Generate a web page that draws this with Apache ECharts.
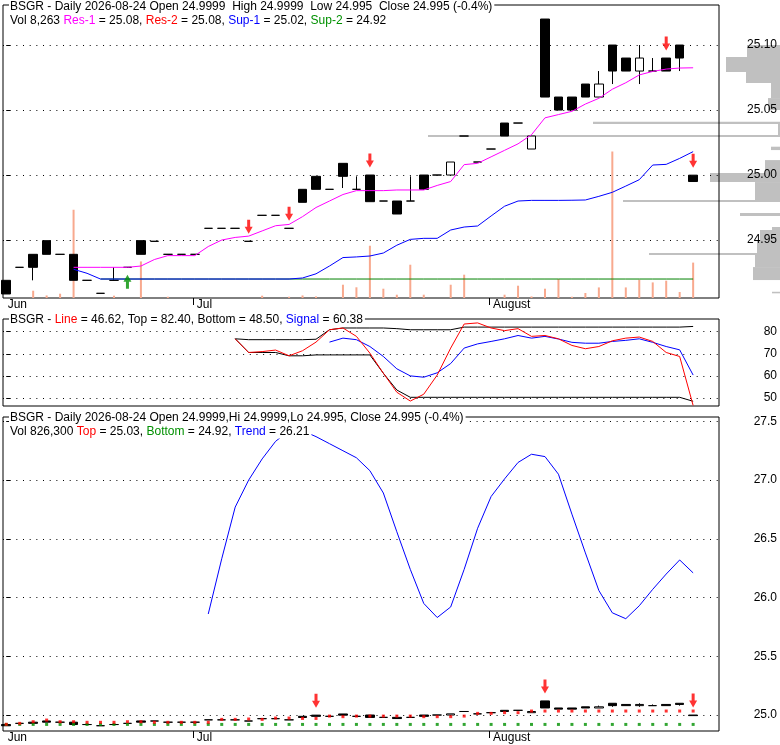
<!DOCTYPE html>
<html>
<head>
<meta charset="utf-8">
<title>BSGR</title>
<script src="https://cdn.jsdelivr.net/npm/echarts@6.0.0/dist/echarts.min.js"></script>
<style>
  html, body { margin: 0; padding: 0; background: #fff; }
  #main { width: 780px; height: 745px; }
</style>
</head>
<body>
<div id="main"></div>
<script>
// 交易日
var dates = [
  '2026-06-10','2026-06-11','2026-06-12','2026-06-15','2026-06-16','2026-06-17','2026-06-18','2026-06-22',
  '2026-06-23','2026-06-24','2026-06-25','2026-06-26','2026-06-29','2026-06-30','2026-07-01','2026-07-02',
  '2026-07-06','2026-07-07','2026-07-08','2026-07-09','2026-07-10','2026-07-13','2026-07-14','2026-07-15',
  '2026-07-16','2026-07-17','2026-07-20','2026-07-21','2026-07-22','2026-07-23','2026-07-24','2026-07-27',
  '2026-07-28','2026-07-29','2026-07-30','2026-07-31','2026-08-03','2026-08-04','2026-08-05','2026-08-06',
  '2026-08-07','2026-08-10','2026-08-11','2026-08-12','2026-08-13','2026-08-14','2026-08-17','2026-08-18',
  '2026-08-19','2026-08-20','2026-08-21','2026-08-24'
];
var monthNames = { 6: 'Jun', 7: 'Jul', 8: 'August' };

// OHLC
var openP = [24.919,24.929,24.939,24.9495,24.939,24.939,24.919,24.909,24.919,24.929,24.9495,24.949,24.939,24.939,24.939,24.959,
  24.959,24.959,24.949,24.969,24.969,24.959,24.989,24.999,24.989,25.009,24.989,25.0,24.98,24.98,24.98,25.0,
  25.0,25.0,25.03,25.01,25.02,25.04,25.04,25.02,25.12,25.06,25.06,25.07,25.06,25.10,25.09,25.08,
  25.08,25.09,25.10,24.9999];
var closeP = [24.9085,24.929,24.929,24.939,24.939,24.919,24.919,24.909,24.919,24.929,24.939,24.949,24.939,24.939,24.939,24.959,
  24.959,24.959,24.949,24.969,24.969,24.959,24.979,24.989,24.989,24.999,24.989,24.9795,24.98,24.97,24.98,24.989,
  25.0,25.01,25.03,25.01,25.02,25.03,25.04,25.03,25.06,25.05,25.05,25.06,25.07,25.08,25.08,25.09,
  25.08,25.08,25.09,24.995];
var lowP = [24.9085,24.929,24.919,24.939,24.939,24.919,24.919,24.909,24.919,24.929,24.939,24.949,24.939,24.939,24.939,24.959,
  24.959,24.959,24.949,24.969,24.969,24.959,24.979,24.989,24.989,24.990,24.989,24.9795,24.98,24.97,24.98,24.989,
  25.0,25.0,25.03,25.01,25.02,25.03,25.04,25.02,25.06,25.05,25.05,25.06,25.06,25.07,25.08,25.07,
  25.08,25.08,25.08,24.995];
var highP = [24.919,24.929,24.939,24.9495,24.939,24.939,24.919,24.909,24.929,24.929,24.9495,24.949,24.939,24.939,24.939,24.959,
  24.959,24.959,24.949,24.969,24.969,24.959,24.989,24.999,24.989,25.009,24.999,25.0,24.98,24.98,24.999,25.0,
  25.0,25.01,25.03,25.01,25.02,25.04,25.04,25.03,25.12,25.06,25.06,25.07,25.08,25.10,25.09,25.10,
  25.09,25.09,25.10,24.9999];
var volume = [0,0,1700,600,1000,20600,0,0,540,0,8540,0,300,0,0,0,
  0,0,0,540,0,300,600,370,0,3100,2500,12200,2170,770,7770,770,
  0,3100,5440,0,0,770,2870,370,2170,4430,300,1170,2470,34200,2470,4270,
  3640,4040,1400,8263];

// 支撑/阻力
var res1 = [null,null,null,null,null,24.929,24.929,24.929,24.929,24.929,24.930,24.935,24.938,24.938,24.938,24.945,
  24.950,24.952,24.953,24.957,24.961,24.962,24.968,24.975,24.980,24.985,24.988,24.988,24.988,24.9885,24.9885,24.9885,
  24.992,24.995,25.008,25.009,25.014,25.019,25.024,25.031,25.044,25.0465,25.049,25.0546,25.059,25.066,25.071,25.077,
  25.0797,25.0815,25.0823,25.0825];
var sup1 = [null,null,null,null,null,24.9275,24.9244,24.920,24.920,24.920,24.920,24.920,24.920,24.920,24.920,24.920,
  24.920,24.920,24.920,24.920,24.920,24.920,24.9208,24.924,24.930,24.9365,24.937,24.9377,24.940,24.946,24.9505,24.9513,
  24.9513,24.9577,24.960,24.9608,24.9685,24.976,24.980,24.9805,24.9805,24.9805,24.9806,24.9808,24.9836,24.9867,24.9915,24.9964,
  25.0077,25.0082,25.0128,25.018];
var sup2 = [null,null,null,null,null,null,null,24.92,24.92,24.92,24.92,24.92,24.92,24.92,24.92,24.92,
  24.92,24.92,24.92,24.92,24.92,24.92,24.92,24.92,24.92,24.92,24.92,24.92,24.92,24.92,24.92,24.92,
  24.92,24.92,24.92,24.92,24.92,24.92,24.92,24.92,24.92,24.92,24.92,24.92,24.92,24.92,24.92,24.92,
  24.92,24.92,24.92,24.92];

// 价格成交量分布 (右侧灰条)
var vbpLow  = [25.0908,25.0792,25.0708,25.0592,25.0500,25.0392,25.0308,25.0292,25.0192,25.0015,24.9946,
  24.9808,24.9792,24.9685,24.9577,24.9500,24.9400,24.9385,24.9292,24.9192,24.9090];
var vbpHigh = [25.1000,25.0908,25.0792,25.0708,25.0592,25.0410,25.0392,25.0308,25.0218,25.0115,25.0015,
  24.9946,24.9808,24.9708,24.9600,24.9577,24.9500,24.9400,24.9385,24.9292,24.9102];
var vbpVol  = [33,54,34,9,12,187,2,352,9,15,70,25,157,40,8,20,23,131,25,27,8];

// 信号
var sellMain = ['2026-07-08','2026-07-13','2026-07-21','2026-08-20','2026-08-24'];
var buyMain = ['2026-06-24'];
var sellLow = ['2026-07-15','2026-08-07','2026-08-24'];

// 指标面板
var line2 = [null,null,null,null,null,null,null,null,null,null,null,null,null,null,null,null,
  null,76.8,70.6,71.0,71.7,69.1,71.4,75.3,80.9,81.7,77.9,70.3,61.2,52.6,48.6,51.7,
  60.4,72.6,83.5,84.0,81.7,80.5,81.4,77.9,78.3,76.8,73.8,72.3,73.3,75.9,77.1,77.6,
  75.6,70.6,68.8,46.62];
var signal2 = [null,null,null,null,null,null,null,null,null,null,null,null,null,null,null,null,
  null,null,null,null,null,null,null,null,75.3,77.1,76.4,73.3,68.8,63.2,60.0,59.4,
  61.4,65.6,72.6,74.5,75.6,76.8,78.3,77.1,77.9,76.7,75.2,74.8,74.8,75.6,76.1,76.8,
  75.2,73.3,71.8,60.38];
var top2 = [null,null,null,null,null,null,null,null,null,null,null,null,null,null,null,null,
  null,76.8,76.4,76.4,76.4,76.4,76.4,76.6,80.9,81.7,81.7,81.7,81.7,81.4,80.9,80.9,
  80.9,80.9,82.1,82.1,82.1,82.1,82.1,82.1,82.1,82.1,82.1,82.1,82.1,82.1,82.1,82.1,
  82.1,82.1,82.1,82.4];
var bottom2 = [null,null,null,null,null,null,null,null,null,null,null,null,null,null,null,null,
  null,76.8,70.6,70.6,70.6,69.1,69.1,69.5,69.5,69.5,69.5,69.5,61.2,53.6,50.3,50.3,
  50.3,50.3,50.3,50.3,50.3,50.3,50.3,50.3,50.3,50.3,50.3,50.3,50.3,50.3,50.3,50.3,
  50.3,50.3,50.3,48.5];

var trend3 = [null,null,null,null,null,null,null,null,null,null,null,null,null,null,null,25.86,
  26.33,26.77,27.0,27.18,27.33,27.42,27.42,27.37,27.31,27.25,27.19,27.08,26.89,26.56,26.24,25.95,
  25.83,25.92,26.24,26.59,26.86,27.01,27.15,27.22,27.20,27.05,26.71,26.38,26.06,25.87,25.82,25.93,
  26.07,26.20,26.32,26.21];
var top3 = [24.921,24.929,24.943,24.957,24.943,24.943,24.938,24.938,24.938,24.943,24.943,24.938,24.938,24.938,24.938,24.938,
  24.963,24.963,24.966,24.963,24.974,24.974,24.971,24.971,24.991,24.986,24.991,24.991,24.991,24.991,24.991,24.986,
  24.986,24.986,24.991,25.014,25.014,25.02,25.02,25.034,25.034,25.034,25.034,25.034,25.034,25.034,25.034,25.034,
  25.034,25.034,25.034,25.034];
var bottom3 = [24.92,24.92,24.92,24.92,24.92,24.92,24.92,24.92,24.92,24.92,24.92,24.92,24.92,24.92,24.92,24.92,
  24.92,24.92,24.92,24.92,24.92,24.92,24.92,24.92,24.92,24.92,24.92,24.92,24.92,24.92,24.92,24.92,
  24.92,24.92,24.92,24.92,24.92,24.92,24.92,24.92,24.92,24.92,24.92,24.92,24.92,24.92,24.92,24.92,
  24.92,24.92,24.92,24.92];
var vol3 = 826300;

// 坐标刻度
var priceTicks = [24.95, 25.00, 25.05, 25.10];
var oscTicks = [50, 60, 70, 80];
var trendTicks = [25.0, 25.5, 26.0, 26.5, 27.0, 27.5];

var FONT = "'Liberation Sans', Arial, sans-serif";
var X_MIN = -0.24, X_MAX = 52.92;
var ARROW_DOWN = 'path://M2.5,0L5.5,0L5.5,7L8,7L4,14L0,7L2.5,7Z';
var ARROW_UP = 'path://M4,0L8,7L5.5,7L5.5,14L2.5,14L2.5,7L0,7Z';

function pairs(arr) {
    var out = [];
    for (var i = 0; i < arr.length; i++) {
        if (arr[i] != null) out.push([i, arr[i]]);
    }
    return out;
}
function signalPoints(list, price) {
    return list.map(function (d) { var i = dates.indexOf(d); return [i, price[i]]; });
}

// 月份刻度
var monthMarks = [];
for (var i = 0; i < dates.length; i++) {
    var m = +dates[i].slice(5, 7);
    if (i === 0) monthMarks.push({ at: X_MIN + 0.05, name: monthNames[m], tick: false });
    else if (m !== +dates[i - 1].slice(5, 7)) monthMarks.push({ at: i - 0.15, name: monthNames[m], tick: true });
}
var labelVals = monthMarks.map(function (o) { return o.at; });
var tickVals = monthMarks.filter(function (o) { return o.tick; }).map(function (o) { return o.at; });
function monthFormatter(v) {
    for (var k = 0; k < monthMarks.length; k++) {
        if (Math.abs(monthMarks[k].at - v) < 1e-6) return monthMarks[k].name;
    }
    return '';
}

var candles = dates.map(function (d, i) { return [i, openP[i], closeP[i], lowP[i], highP[i]]; });
var last = dates.length - 1;
var pct = ((closeP[last] - closeP[last - 1]) / closeP[last - 1] * 100).toFixed(1);

var rs = function (c) { return { color: c, fontSize: 12, fontFamily: FONT, fontWeight: 'normal', lineHeight: 13 }; };
var rich = { k: rs('#000'), m: rs('#FF00FF'), r: rs('#FF0000'), b: rs('#0000FF'), g: rs('#009000') };
function header(text, top) {
    return {
        text: text, left: 9, top: top, padding: [0, 2, 0, 1], backgroundColor: '#fff',
        textStyle: { fontSize: 12, fontWeight: 'normal', fontFamily: FONT, color: '#000', lineHeight: 13, rich: rich }
    };
}

function xAxisFor(grid, showLabels) {
    return {
        type: 'value', gridIndex: grid, min: X_MIN, max: X_MAX,
        axisLine: { show: false },
        axisTick: { show: showLabels, length: 7, customValues: tickVals, lineStyle: { color: '#000' } },
        axisLabel: {
            show: showLabels, customValues: labelVals, formatter: monthFormatter,
            align: 'left', padding: [0, 0, 0, 4], margin: 1,
            color: '#000', fontSize: 12, fontFamily: FONT
        },
        splitLine: { show: false }
    };
}
// 右侧价格轴, 虚线网格跟随刻度
function yAxisFor(grid, min, max, ticks, digits) {
    return {
        type: 'value', gridIndex: grid, position: 'right', min: min, max: max,
        axisLine: { show: false },
        axisTick: { show: true, length: 4, customValues: ticks, lineStyle: { color: '#000' } },
        axisLabel: {
            customValues: ticks, formatter: function (v) { return v.toFixed(digits); },
            margin: 58, align: 'right', color: '#000', fontSize: 12, fontFamily: FONT
        },
        splitLine: { show: true, lineStyle: { color: '#000', width: 1, type: [1, 5.67] } }
    };
}
function simpleLine(x, y, data, color, z) {
    return {
        type: 'line', xAxisIndex: x, yAxisIndex: y, data: pairs(data), showSymbol: false, symbol: 'none',
        lineStyle: { color: color, width: 1 }, z: z || 3, silent: true
    };
}
var candleStyle = { color: '#fff', color0: '#000', borderColor: '#000', borderColor0: '#000', borderColorDoji: '#000', borderWidth: 1 };

var myChart = echarts.init(document.getElementById('main'));
myChart.setOption({
    animation: false,
    backgroundColor: '#fff',
    title: [
        header('BSGR - Daily ' + dates[last] + ' Open ' + openP[last] + '  High ' + highP[last] + '  Low ' + lowP[last] +
            '  Close ' + closeP[last] + ' (' + pct + '%)', 0),
        header('{k|Vol ' + volume[last].toLocaleString('en-US') + ' }{m|Res-1}{k| = ' + res1[last].toFixed(2) +
            ', }{r|Res-2}{k| = ' + res1[last].toFixed(2) + ', }{b|Sup-1}{k| = ' + sup1[last].toFixed(2) +
            ', }{g|Sup-2}{k| = ' + sup2[last].toFixed(2) + '}', 14),
        header('{k|BSGR - }{r|Line}{k| = ' + line2[last].toFixed(2) + ', Top = ' + top2[last].toFixed(2) +
            ', Bottom = ' + bottom2[last].toFixed(2) + ', }{b|Signal}{k| = ' + signal2[last].toFixed(2) + '}', 313.5),
        header('BSGR - Daily ' + dates[last] + ' Open ' + openP[last] + ',Hi ' + highP[last] + ',Lo ' + lowP[last] +
            ', Close ' + closeP[last] + ' (' + pct + '%)', 411.5),
        header('{k|Vol ' + vol3.toLocaleString('en-US') + ' }{r|Top}{k| = ' + top3[last].toFixed(2) +
            ', }{g|Bottom}{k| = ' + bottom3[last].toFixed(2) + ', }{b|Trend}{k| = ' + trend3[last].toFixed(2) + '}', 425.5)
    ],
    grid: [
        { left: 3, right: 61, top: 5, bottom: 447, show: true, borderColor: '#000', borderWidth: 1, backgroundColor: 'transparent', outerBoundsMode: 'none' },
        { left: 3, right: 61, top: 319, bottom: 339, show: true, borderColor: '#000', borderWidth: 1, backgroundColor: 'transparent', outerBoundsMode: 'none' },
        { left: 3, right: 61, top: 417, bottom: 14, show: true, borderColor: '#000', borderWidth: 1, backgroundColor: 'transparent', outerBoundsMode: 'none' },
        { left: 0, right: 0, top: 5, bottom: 447, show: false, outerBoundsMode: 'none' }
    ],
    xAxis: [
        xAxisFor(0, true),
        xAxisFor(1, false),
        xAxisFor(2, true),
        { type: 'value', gridIndex: 3, inverse: true, min: 0, max: 780, show: false }
    ],
    yAxis: [
        yAxisFor(0, 24.9054, 25.1308, priceTicks, 2),
        { type: 'value', gridIndex: 0, min: 0, max: 68400, show: false },
        yAxisFor(1, 46.36, 85.77, oscTicks, 0),
        yAxisFor(2, 24.864, 27.537, trendTicks, 1),
        { type: 'value', gridIndex: 3, min: 24.9054, max: 25.1308, show: false }
    ],
    series: [
        {
            type: 'custom', xAxisIndex: 3, yAxisIndex: 4, z: -1, silent: true,
            data: vbpLow.map(function (lo, k) { return [lo, vbpHigh[k], vbpVol[k]]; }),
            encode: { x: 2, y: [0, 1] },
            renderItem: function (params, api) {
                var a = api.coord([api.value(2), api.value(1)]);
                var b = api.coord([0, api.value(0)]);
                return { type: 'rect', shape: { x: a[0], y: a[1], width: b[0] - a[0], height: b[1] - a[1] }, style: { fill: '#C0C0C0' } };
            }
        },
        {
            type: 'bar', xAxisIndex: 0, yAxisIndex: 1, barWidth: 2, z: 1, silent: true,
            data: pairs(volume).filter(function (p) { return p[1] > 0; }),
            itemStyle: { color: '#F8A98E' }
        },
        { type: 'candlestick', xAxisIndex: 0, yAxisIndex: 0, barWidth: 9, data: candles, itemStyle: candleStyle, z: 2, silent: true },
        simpleLine(0, 0, sup2, '#008000'),
        simpleLine(0, 0, sup1, '#0000FF'),
        simpleLine(0, 0, res1, '#FF00FF'),
        {
            type: 'scatter', xAxisIndex: 0, yAxisIndex: 0, data: signalPoints(sellMain, highP), symbol: ARROW_DOWN,
            symbolSize: [8, 14], symbolOffset: [0, -14.5], itemStyle: { color: '#FF0000' }, z: 5, silent: true
        },
        {
            type: 'scatter', xAxisIndex: 0, yAxisIndex: 0, data: signalPoints(buyMain, lowP), symbol: ARROW_UP,
            symbolSize: [8, 14], symbolOffset: [0, 14.5], itemStyle: { color: '#009000' }, z: 5, silent: true
        },

        simpleLine(1, 2, top2, '#000'),
        simpleLine(1, 2, bottom2, '#000'),
        simpleLine(1, 2, signal2, '#0000FF'),
        simpleLine(1, 2, line2, '#FF0000'),

        simpleLine(2, 3, trend3, '#0000FF'),
        { type: 'candlestick', xAxisIndex: 2, yAxisIndex: 3, barWidth: 9, data: candles, itemStyle: candleStyle, z: 2, silent: true },
        {
            type: 'scatter', xAxisIndex: 2, yAxisIndex: 3, data: pairs(bottom3), symbol: 'rect', symbolSize: 3,
            itemStyle: { color: '#009000' }, z: 4, silent: true
        },
        {
            type: 'scatter', xAxisIndex: 2, yAxisIndex: 3, data: pairs(top3), symbol: 'rect', symbolSize: 3,
            itemStyle: { color: '#FF0000' }, z: 4, silent: true
        },
        {
            type: 'scatter', xAxisIndex: 2, yAxisIndex: 3, data: signalPoints(sellLow, highP), symbol: ARROW_DOWN,
            symbolSize: [8, 14], symbolOffset: [0, -14.5], itemStyle: { color: '#FF0000' }, z: 5, silent: true
        }
    ]
});
</script>
</body>
</html>
